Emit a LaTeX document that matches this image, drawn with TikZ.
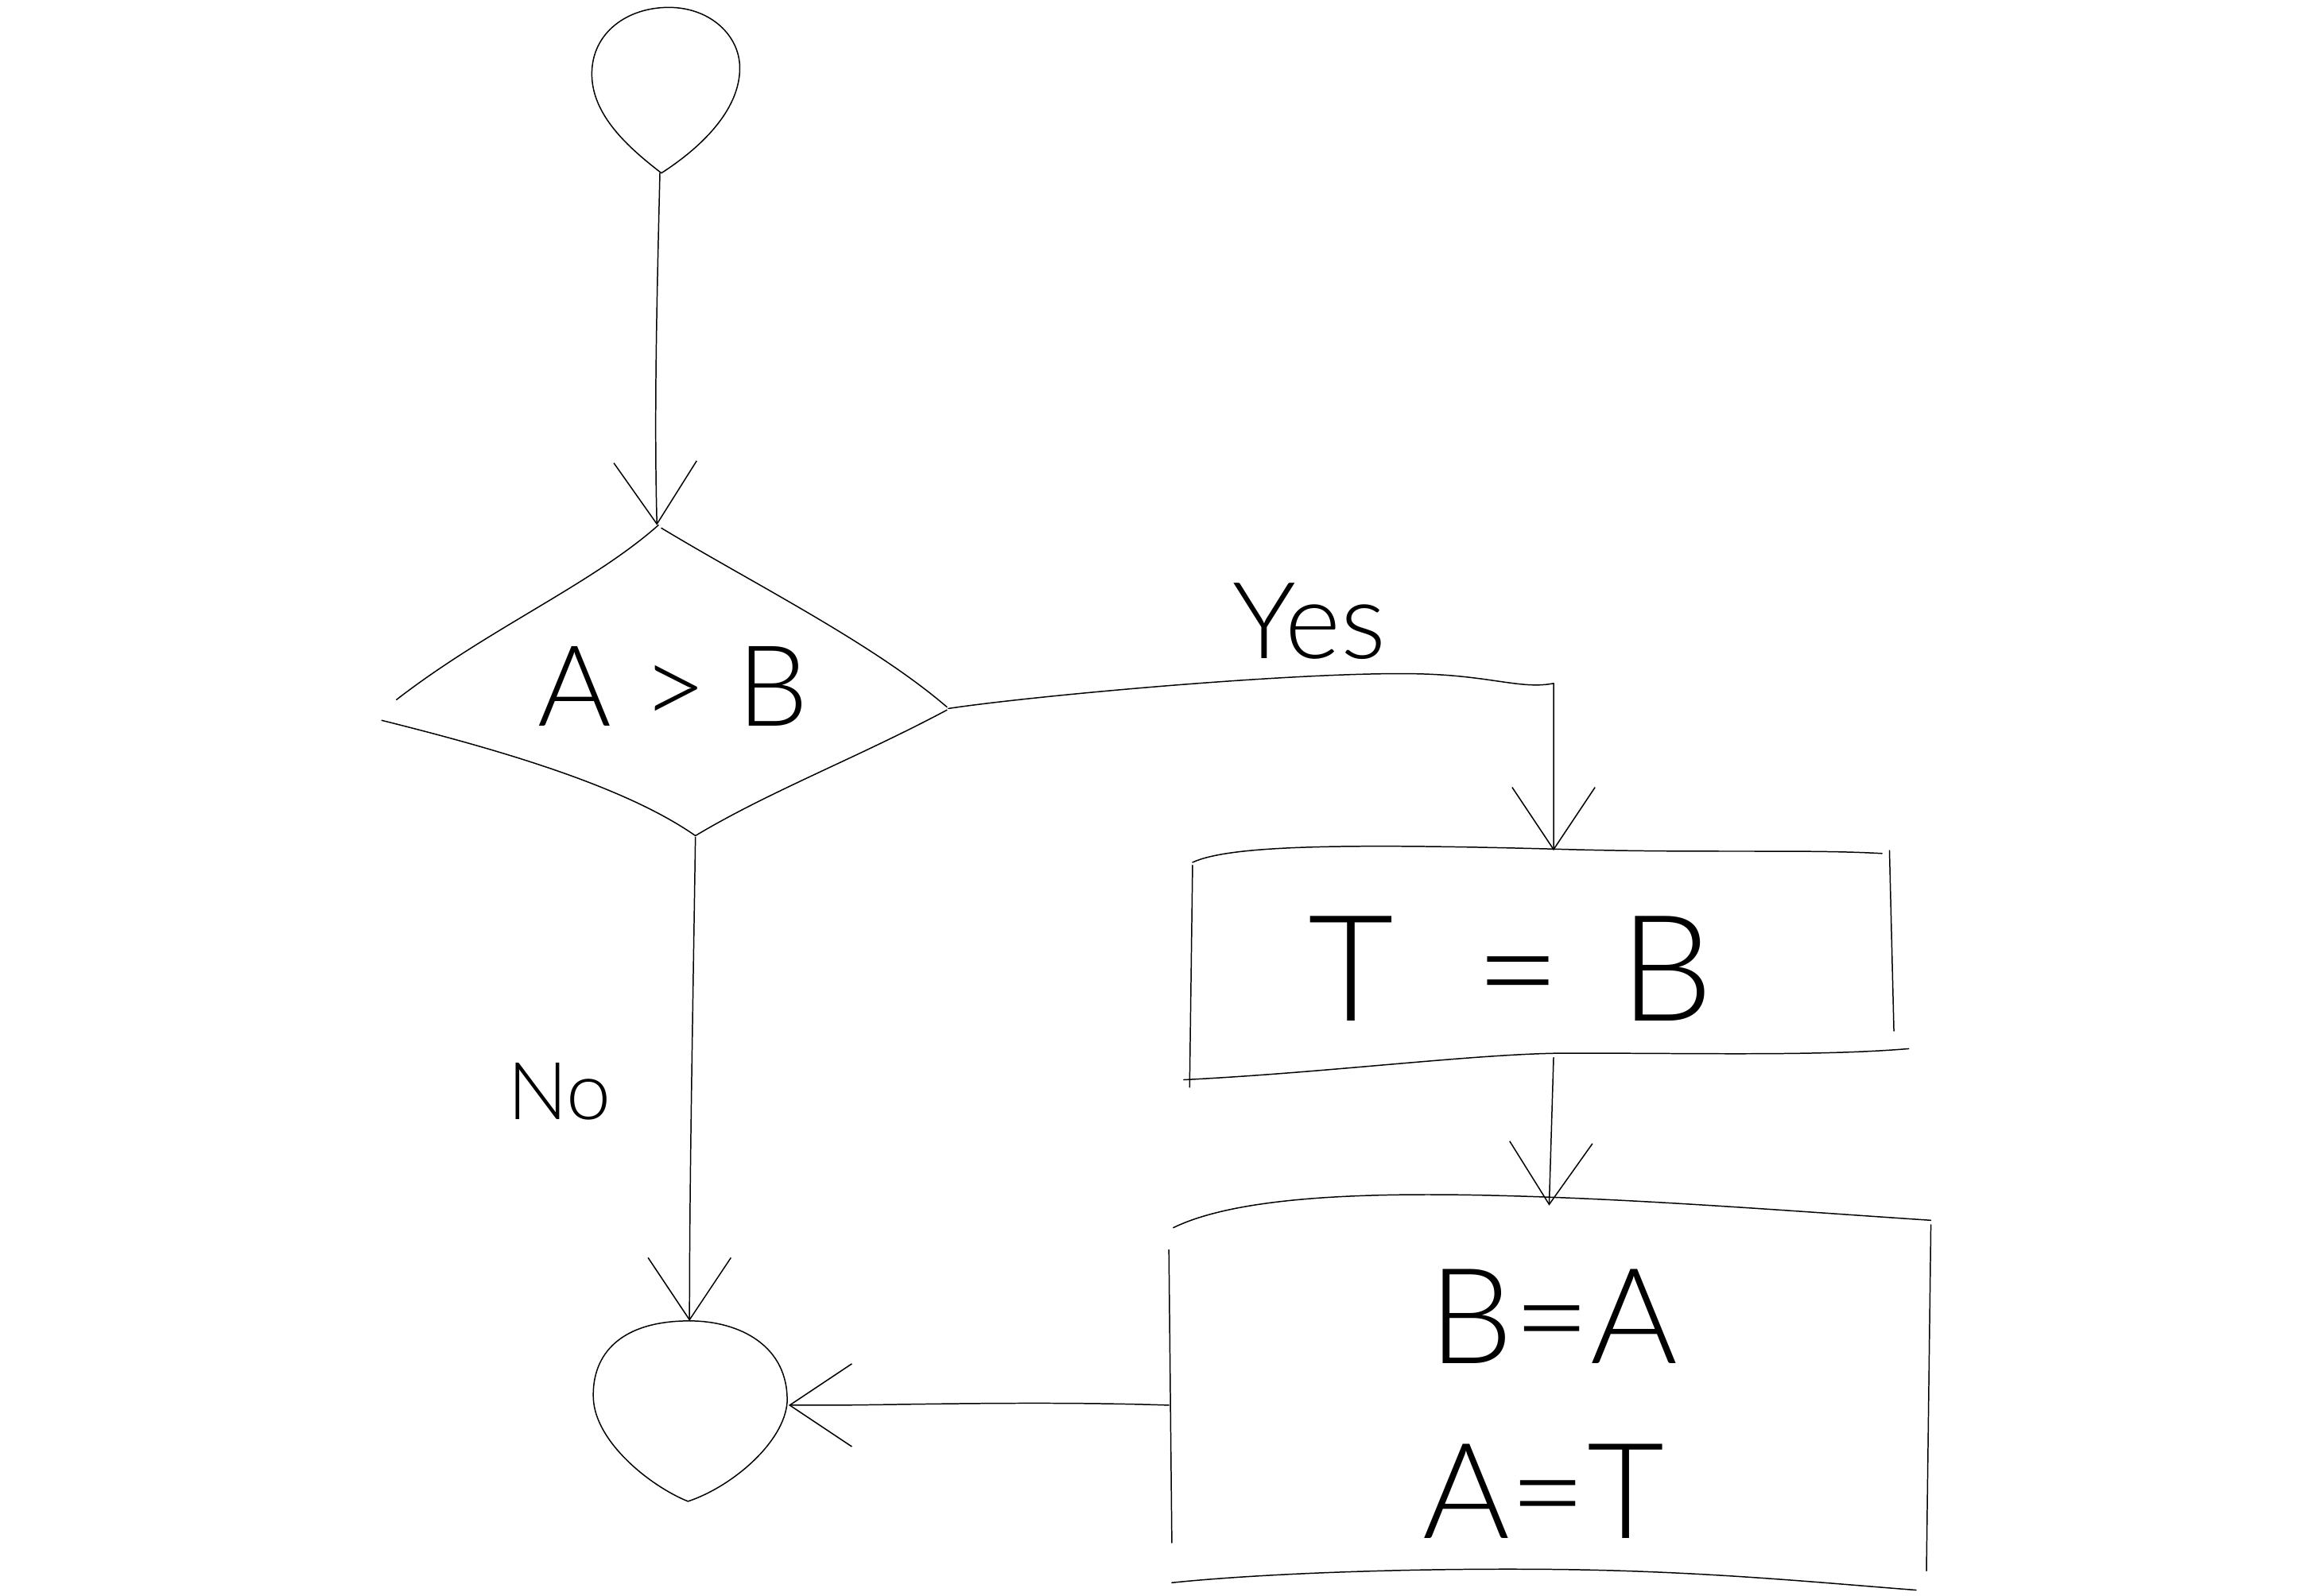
\documentclass[tikz,border=0pt]{standalone}
\usepackage{fontspec}
\newfontfamily\hand{Lato}[UprightFont=* Light]
\usetikzlibrary{arrows.meta}
\tikzset{
  ink/.style={line width=0.8pt, black, line cap=round, line join=round},
  flow/.style={ink, -{Straight Barb[length=42pt,width=56pt]}},
  lbl/.style={inner sep=0pt, font=\hand\fontsize{#1}{#1}\selectfont},
}
\begin{document}
\begin{tikzpicture}[x=1pt,y=-1pt]
\useasboundingbox (0,0) rectangle (1568,1079);

% start terminal
\draw[ink] (447,117) .. controls (425,100) and (400,78) .. (400,50)
  .. controls (400,22) and (424,5) .. (452,5)
  .. controls (480,5) and (500,24) .. (500,46)
  .. controls (500,72) and (478,97) .. (447,117);
\coordinate (startB) at (446,117);

% decision
\coordinate (dT) at (444,355);
\coordinate (dR) at (641,479);
\coordinate (dB) at (470,566);
\draw[ink] (445,355) .. controls (400,395) and (330,425) .. (268,473);
\draw[ink] (447,357) .. controls (510,395) and (590,435) .. (640,478);
\draw[ink] (640,480) .. controls (580,512) and (520,535) .. (470,565);
\draw[ink] (258,487) .. controls (330,505) and (420,530) .. (470,565);
\node[lbl=76] (cmp) at (455,464) {A > B};

% first assignment box
\coordinate (b1T) at (1050,575);
\coordinate (b1B) at (1050,715);
\draw[ink] (806,583) .. controls (830,572) and (900,570) .. (1050,574)
  .. controls (1150,577) and (1220,574) .. (1272,577);
\draw[ink] (1277,575) -- (1280,697);
\draw[ink] (806,585) -- (804,735);
\draw[ink] (800,730) .. controls (900,725) and (1000,712) .. (1060,712)
  .. controls (1150,712) and (1230,714) .. (1290,709);
\node[lbl=100] (tb) at (1021,655) {T\hspace{55pt}=\hspace{40pt}B};

% second assignment box
\coordinate (b2T) at (1047,815);
\coordinate (b2L) at (790,950);
\draw[ink] (793,830) .. controls (830,812) and (900,806) .. (1000,808)
  .. controls (1100,810) and (1200,818) .. (1305,825);
\draw[ink] (1305,828) -- (1302,1062);
\draw[ink] (790,845) -- (792,1043);
\draw[ink] (792,1070) .. controls (850,1064) and (950,1060) .. (1050,1061)
  .. controls (1150,1062) and (1230,1070) .. (1295,1075);
\node[lbl=90] (ba) at (1050,890) {B=A};
\node[lbl=90] (at) at (1043,1008) {A=T};

% end terminal
\coordinate (eT) at (466,893);
\coordinate (eR) at (533,950);
\draw[ink] (466,893) .. controls (420,893) and (400,915) .. (401,945)
  .. controls (402,975) and (440,1005) .. (465,1015)
  .. controls (495,1005) and (530,975) .. (532,948)
  .. controls (533,910) and (500,893) .. (466,893);

% connectors
\draw[flow] (startB) .. controls (444,200) and (442,280) .. (dT);
\draw[flow] (dR) .. controls (700,470) and (900,452) .. (970,456)
  .. controls (1010,458) and (1030,466) .. (1050,462) -- (b1T);
\draw[flow] (b1B) -- (b2T);
\draw[flow] (b2L) .. controls (700,947) and (600,950) .. (560,950) -- (eR);
\draw[flow] (dB) .. controls (468,700) and (466,800) .. (eT);

% branch labels
\node[lbl=72] (yes) at (885,420) {Yes};
\node[lbl=54] (no) at (378,738) {No};
\end{tikzpicture}
\end{document}
